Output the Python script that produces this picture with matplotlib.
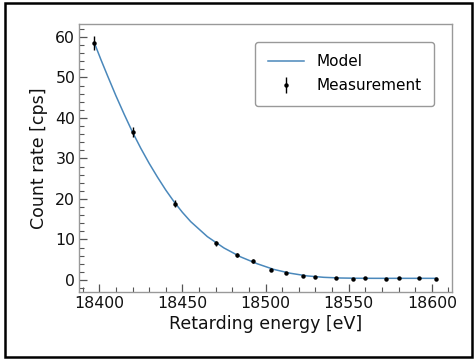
import matplotlib
matplotlib.use('Agg')
import matplotlib.pyplot as plt
from matplotlib.patches import Rectangle
from matplotlib.ticker import MultipleLocator

plt.rcParams['font.family'] = ['DejaVu Sans']

# Измерения
meas_energy = [18397, 18420.5, 18445.5, 18470, 18483, 18492.5, 18503, 18512.5,
               18522.5, 18530, 18542.5, 18552.5, 18560, 18572.5, 18580, 18592.5, 18602.5]
meas_rate = [58.6, 36.5, 18.8, 9.05, 6.1, 4.6, 2.55, 1.65,
             1.07, 0.8, 0.55, 0.3, 0.45, 0.3, 0.45, 0.45, 0.3]
meas_err = [1.7, 1.3, 0.9, 0.6, 0.5, 0.45, 0.35, 0.3,
            0.25, 0.2, 0.2, 0.15, 0.15, 0.15, 0.15, 0.15, 0.15]

model_energy = [18397, 18401, 18405, 18410, 18415, 18420, 18425, 18430, 18435, 18440,
                18445, 18450, 18455, 18465, 18475, 18485,
                18495, 18505, 18515, 18525, 18535, 18545, 18555, 18565, 18575, 18585,
                18595, 18603]
model_rate = [58.6, 54.4, 50.4, 45.5, 40.9, 36.5, 32.5, 28.8, 25.4, 22.2,
              19.3, 16.7, 14.4, 10.7, 7.9, 5.7,
              4.0, 2.6, 1.65, 1.0, 0.65, 0.48, 0.42, 0.40, 0.40, 0.40,
              0.40, 0.40]

fig = plt.figure(figsize=(4.75, 3.59), dpi=100)
ax = fig.add_axes([0.167, 0.1875, 0.784, 0.7455])

ax.plot(model_energy, model_rate, color='#4a88bb', linewidth=1.1, label='Model', zorder=2)
ax.errorbar(meas_energy, meas_rate, yerr=meas_err, fmt='o', color='black',
            markersize=2.2, elinewidth=1.0, capsize=0, label='Measurement', zorder=3)

ax.set_xlim(18388, 18612)
ax.set_ylim(-2.9, 63.2)
ax.xaxis.set_major_locator(MultipleLocator(50))
ax.xaxis.set_minor_locator(MultipleLocator(10))
ax.yaxis.set_major_locator(MultipleLocator(10))
ax.yaxis.set_minor_locator(MultipleLocator(2))
ax.tick_params(which='both', direction='in', colors='#555555', labelcolor='#111111', labelsize=11.3)
ax.tick_params(which='major', length=6, width=0.9, pad=3)
ax.tick_params(which='minor', length=3.5, width=0.8)
for sp in ax.spines.values():
    sp.set_color('#999999')
    sp.set_linewidth(1.0)

ax.set_xlabel('Retarding energy [eV]', fontsize=12.5, labelpad=3, color='#111111')
ax.set_ylabel('Count rate [cps]', fontsize=12.5, labelpad=5, color='#111111')

leg = ax.legend(loc='upper right', bbox_to_anchor=(0.952, 0.933), borderaxespad=0,
                fontsize=11, frameon=True, fancybox=True, edgecolor='#999999', framealpha=1,
                borderpad=0.8, handlelength=2.4, labelspacing=0.6)

# рамка вокруг всей картинки
fig.patches.append(Rectangle((5 / 475, 2 / 359), 467 / 475, 354 / 359, transform=fig.transFigure,
                             fill=False, edgecolor='black', linewidth=1.8))

fig.savefig('out.png', dpi=100)
